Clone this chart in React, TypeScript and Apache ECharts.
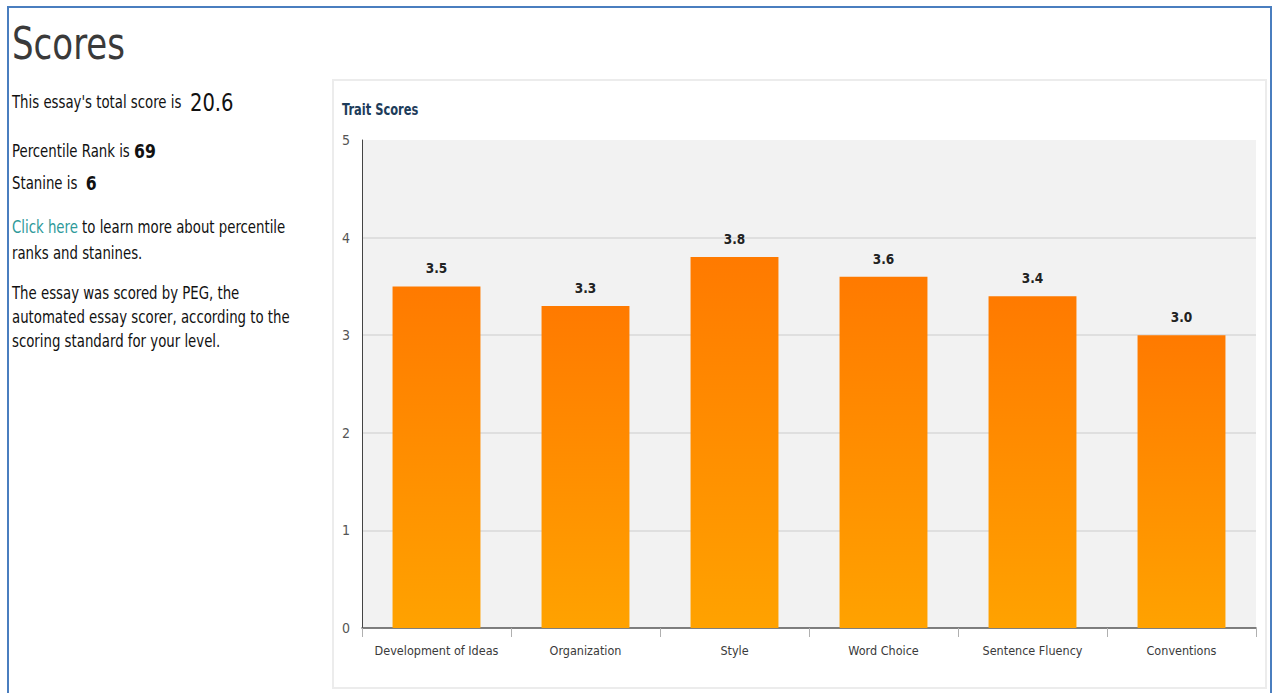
import React, { useEffect, useRef } from "react";
import * as echarts from "echarts";

const categories = ["Development of Ideas", "Organization", "Style", "Word Choice", "Sentence Fluency", "Conventions"];
const traitScores = [3.5, 3.3, 3.8, 3.6, 3.4, 3.0];
const yTicks = [0, 1, 2, 3, 4, 5];
const totalScore = "20.6";
const percentileRank = "69";
const stanine = "6";

const FONT = "DejaVu Sans Condensed, DejaVu Sans, sans-serif";
const SX = 0.87;

export default function App() {
  const ref = useRef<HTMLDivElement>(null);
  useEffect(() => {
    document.body.style.margin = "0";
    const chart = echarts.init(ref.current!, null, { renderer: "svg" });
    chart.setOption({
      animation: false,
      backgroundColor: "#ffffff",
      textStyle: { fontFamily: FONT },
      graphic: [
        { type: "rect", z: -10, shape: { x: 8, y: 7, width: 1263, height: 720 }, style: { fill: "none", stroke: "#4a7ebf", lineWidth: 2 } },
        { type: "rect", z: -9, shape: { x: 333, y: 80, width: 933, height: 608 }, style: { fill: "#ffffff", stroke: "#ececec", lineWidth: 2 } },
        { type: "text", x: 12, y: 22, scaleX: 0.86, style: { text: "Scores", fontSize: 44, fill: "#3a3a3a", fontFamily: FONT } },
        {
          type: "text", x: 12, y: 90, scaleX: SX,
          style: {
            text: "{a|This essay's total score is  }{b|" + totalScore + "}",
            fontFamily: FONT,
            rich: {
              a: { fontSize: 17, fill: "#111", fontFamily: FONT },
              b: { fontSize: 25, fill: "#111", fontFamily: FONT },
            },
          },
        },
        {
          type: "text", x: 12, y: 141, scaleX: SX,
          style: {
            text: "{a|Percentile Rank is }{b|" + percentileRank + "}",
            rich: {
              a: { fontSize: 17, fill: "#111", fontFamily: FONT },
              b: { fontSize: 20, fontWeight: "bold", fill: "#111", fontFamily: FONT },
            },
          },
        },
        {
          type: "text", x: 12, y: 173, scaleX: SX,
          style: {
            text: "{a|Stanine is  }{b|" + stanine + "}",
            rich: {
              a: { fontSize: 17, fill: "#111", fontFamily: FONT },
              b: { fontSize: 20, fontWeight: "bold", fill: "#111", fontFamily: FONT },
            },
          },
        },
        {
          type: "text", x: 12, y: 214, scaleX: SX,
          style: {
            text: "{c|Click here}{a| to learn more about percentile}\n{a|ranks and stanines.}",
            lineHeight: 26,
            rich: {
              a: { fontSize: 17, fill: "#111", fontFamily: FONT, lineHeight: 26 },
              c: { fontSize: 17, fill: "#2e9a9a", fontFamily: FONT, lineHeight: 26 },
            },
          },
        },
        {
          type: "text", x: 12, y: 281, scaleX: SX,
          style: {
            text: "The essay was scored by PEG, the\nautomated essay scorer, according to the\nscoring standard for your level.",
            fontSize: 17, lineHeight: 24, fill: "#111", fontFamily: FONT,
          },
        },
        { type: "text", x: 342, y: 102, scaleX: 0.85, style: { text: "Trait Scores", fontSize: 15, fontWeight: "bold", fill: "#1d3c5a", fontFamily: FONT } },
      ],
      grid: {
        left: 362, top: 140, right: 17, bottom: 65,
        show: true, backgroundColor: "#f2f2f2", borderWidth: 0,
      },
      xAxis: {
        type: "category",
        data: categories,
        axisLine: { show: true, lineStyle: { color: "#555", width: 1.5 } },
        axisTick: { show: true, length: 9, lineStyle: { color: "#b0b0b0" } },
        axisLabel: { interval: 0, color: "#3a3a3a", fontSize: 12.5, margin: 16, fontFamily: FONT },
      },
      yAxis: {
        type: "value",
        min: yTicks[0],
        max: yTicks[yTicks.length - 1],
        interval: 1,
        axisLine: { show: true, lineStyle: { color: "#444", width: 1 } },
        axisTick: { show: false },
        axisLabel: { color: "#555", fontSize: 14, margin: 12, fontFamily: FONT },
        splitLine: { show: true, lineStyle: { color: ["transparent", "#d8d8d8", "#d8d8d8", "#d8d8d8", "#d8d8d8", "transparent"], width: 1.5 } },
      },
      series: [
        {
          type: "bar",
          data: traitScores,
          barWidth: "59%",
          itemStyle: {
            color: new echarts.graphic.LinearGradient(0, 0, 0, 1, [
              { offset: 0, color: "#ff7a00" },
              { offset: 1, color: "#ffa200" },
            ]),
          },
          label: {
            show: true,
            position: "top",
            distance: 11,
            fontSize: 13.5,
            fontWeight: "bold",
            color: "#222",
            fontFamily: FONT,
            formatter: (p: any) => Number(p.value).toFixed(1),
          },
        },
      ],
    });
    return () => chart.dispose();
  }, []);
  return <div ref={ref} style={{ width: 1273, height: 693, position: "absolute", left: 0, top: 0 }} />;
}
